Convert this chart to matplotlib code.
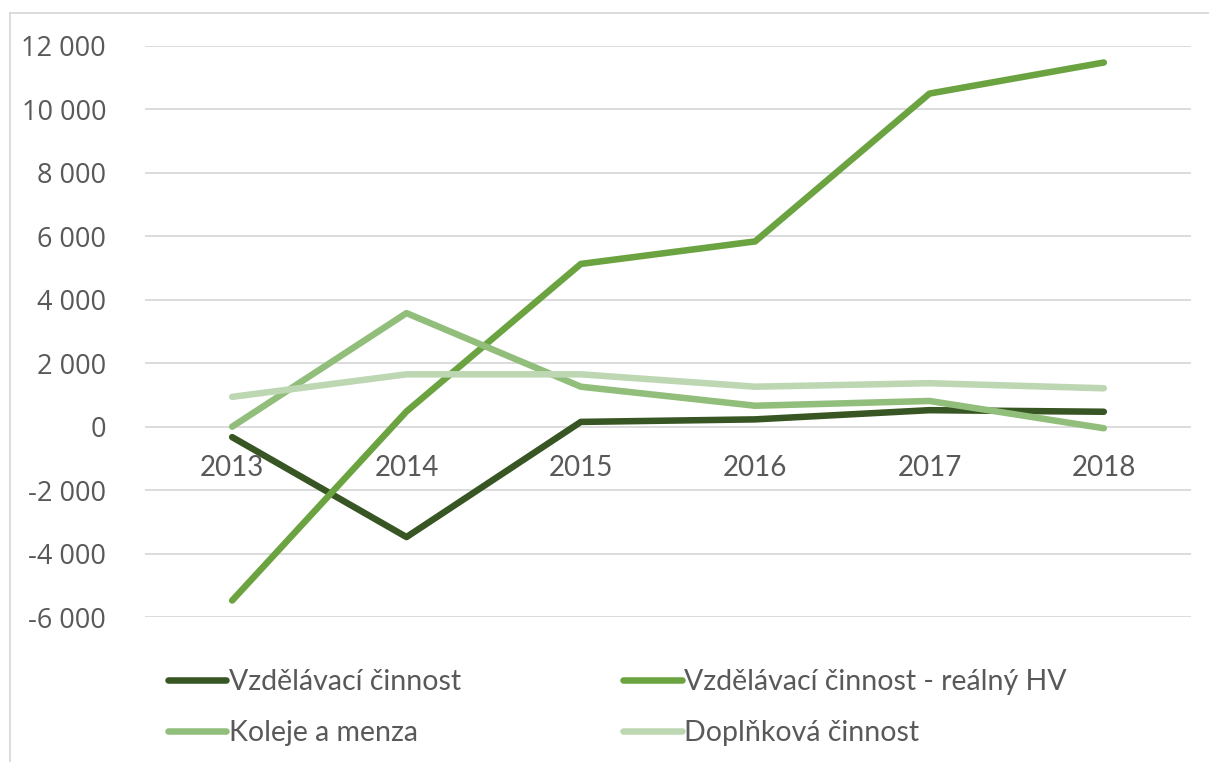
import matplotlib
matplotlib.use("Agg")
import matplotlib.pyplot as plt
from matplotlib.lines import Line2D

years = ["2013", "2014", "2015", "2016", "2017", "2018"]
vzdelavaci = [-330, -3480, 150, 230, 520, 470]
realny_hv = [-5480, 480, 5130, 5840, 10500, 11480]
koleje = [0, 3580, 1260, 660, 810, -50]
doplnkova = [940, 1650, 1650, 1260, 1370, 1210]

yticks = [-6000, -4000, -2000, 0, 2000, 4000, 6000, 8000, 10000, 12000]
ytick_labels = ["-6 000", "-4 000", "-2 000", "0", "2 000", "4 000", "6 000", "8 000", "10 000", "12 000"]

labels = ["Vzdělávací činnost", "Vzdělávací činnost - reálný HV", "Koleje a menza", "Doplňková činnost"]
colors = ["#375623", "#6AA33F", "#92BE7B", "#BDD7B3"]

W, H = 1209, 762
fig = plt.figure(figsize=(W / 100, H / 100), dpi=100)
ax = fig.add_axes([145 / W, 1 - 617 / H, (1191 - 145) / W, (617 - 46) / H])

x = list(range(len(years)))
series = [vzdelavaci, realny_hv, koleje, doplnkova]
lw = 4.7
lines = []
for vals, c, lab in zip(series, colors, labels):
    ln, = ax.plot(x, vals, color=c, lw=lw, solid_capstyle="round", solid_joinstyle="round", label=lab, zorder=3)
    lines.append(ln)

ax.set_xlim(-0.5, len(years) - 0.5)
ax.set_ylim(-6000, 12000)
ax.set_yticks(yticks)
ax.set_yticklabels(ytick_labels, fontfamily="Open Sans", fontsize=19.5, color="#595959")
ax.tick_params(axis="y", length=0, pad=28)
ax.set_xticks([])
ax.grid(axis="y", color="#D9D9D9", lw=1.3, zorder=0)
for s in ax.spines.values():
    s.set_visible(False)

for i, yr in enumerate(years):
    ax.annotate(yr, (i, 0), xytext=(0, -41), textcoords="offset pixels",
                ha="center", va="center", fontfamily="Lato", fontsize=20, color="#595959")

# outer chart border
fig.add_artist(Line2D([10 / W, 1], [1 - 13 / H, 1 - 13 / H], color="#D9D9D9", lw=1.3, transform=fig.transFigure))
fig.add_artist(Line2D([10 / W, 10 / W], [0, 1 - 13 / H], color="#D9D9D9", lw=1.3, transform=fig.transFigure))

order = [0, 2, 1, 3]
leg = fig.legend([lines[i] for i in order], [labels[i] for i in order], ncol=2,
                 loc="upper left", bbox_to_anchor=(142 / W, 1 - 643 / H),
                 frameon=False, handlelength=2.05, handletextpad=0.1,
                 columnspacing=5.7, labelspacing=0.9,
                 prop={"family": "Lato", "size": 20.5})
for t in leg.get_texts():
    t.set_color("#595959")

fig.savefig("out.png", dpi=100)
